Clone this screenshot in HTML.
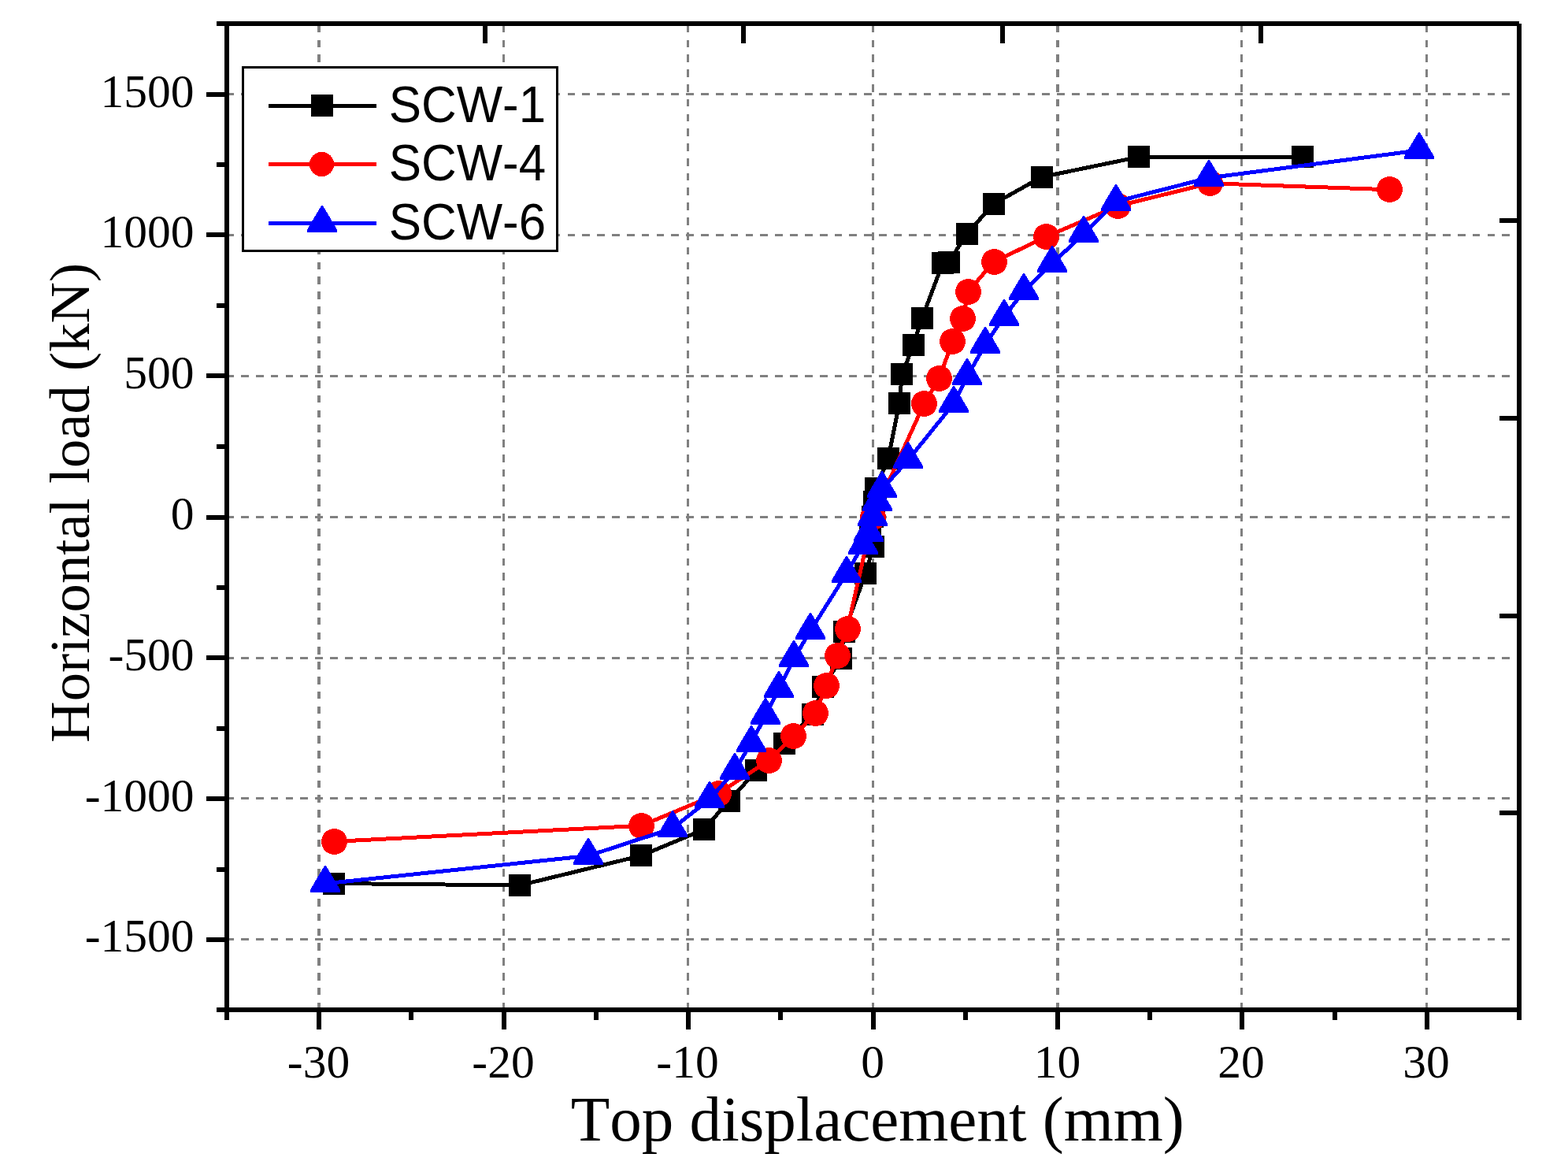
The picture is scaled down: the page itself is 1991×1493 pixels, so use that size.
<!DOCTYPE html>
<html lang="en"><head><meta charset="utf-8"><title>Horizontal load vs top displacement</title>
<style>
html,body{margin:0;padding:0;background:#fff;}
body{width:1991px;height:1493px;overflow:hidden;}
svg{display:block;}
text{font-kerning:none;white-space:pre;}
.tk{font-family:"Liberation Serif","Times New Roman",serif;font-size:59.5px;fill:#000;}
.xt{font-family:"Liberation Serif","Times New Roman",serif;font-size:81.1px;fill:#000;}
.yt{font-family:"Liberation Serif","Times New Roman",serif;font-size:72.6px;fill:#000;}
.lg{font-family:"Liberation Sans",Arial,sans-serif;font-size:64.9px;fill:#000;}
</style></head><body>
<svg width="1991" height="1493" viewBox="0 0 1991 1493">
<rect width="1991" height="1493" fill="#fff"/>
<g stroke="#808080" fill="none" shape-rendering="crispEdges" stroke-dasharray="9.7 9.14">
<line x1="287.2" y1="1192.5" x2="1917" y2="1192.5" stroke-width="3"/>
<line x1="287.2" y1="1013.5" x2="1917" y2="1013.5" stroke-width="3"/>
<line x1="287.2" y1="835.5" x2="1917" y2="835.5" stroke-width="3"/>
<line x1="287.2" y1="656.5" x2="1917" y2="656.5" stroke-width="3"/>
<line x1="287.2" y1="477.5" x2="1917" y2="477.5" stroke-width="3"/>
<line x1="287.2" y1="298.5" x2="1917" y2="298.5" stroke-width="3"/>
<line x1="287.2" y1="119.5" x2="1917" y2="119.5" stroke-width="3"/>
<line x1="405.0" y1="31.7" x2="405.0" y2="1282.0" stroke-width="3.5" stroke-dasharray="9.7 9.10"/>
<line x1="639.5" y1="31.7" x2="639.5" y2="1282.0" stroke-width="3.5" stroke-dasharray="9.7 9.10"/>
<line x1="873.5" y1="31.7" x2="873.5" y2="1282.0" stroke-width="3.5" stroke-dasharray="9.7 9.10"/>
<line x1="1108.5" y1="31.7" x2="1108.5" y2="1282.0" stroke-width="3.5" stroke-dasharray="9.7 9.10"/>
<line x1="1343.0" y1="31.7" x2="1343.0" y2="1282.0" stroke-width="3.5" stroke-dasharray="9.7 9.10"/>
<line x1="1576.5" y1="31.7" x2="1576.5" y2="1282.0" stroke-width="3.5" stroke-dasharray="9.7 9.10"/>
<line x1="1811.5" y1="31.7" x2="1811.5" y2="1282.0" stroke-width="3.5" stroke-dasharray="9.7 9.10"/>
</g>
<g shape-rendering="crispEdges"><polyline fill="none" stroke="#000" stroke-width="5" stroke-linejoin="round" points="423.5,1121.5 659.7,1124.0 814.0,1086.4 893.5,1053.3 925.8,1016.6 960.5,978.5 995.6,943.9 1032.2,906.9 1045.2,871.9 1067.8,836.5 1071.9,802.5 1099.0,728.3 1108.8,694.3 1104.8,674.3 1108.0,656.3 1110.1,636.9 1112.2,620.0 1128.0,581.5 1142.0,511.9 1145.4,475.3 1159.5,438.5 1170.9,403.8 1197.1,334.0 1204.7,332.8 1227.8,296.7 1261.6,258.9 1322.8,224.7 1445.5,199.4 1654.2,199.1"/><g fill="#000"><rect x="410" y="1108" width="28" height="28"/><rect x="646" y="1110" width="28" height="28"/><rect x="800" y="1072" width="28" height="28"/><rect x="880" y="1039" width="28" height="28"/><rect x="912" y="1003" width="28" height="28"/><rect x="946" y="964" width="28" height="28"/><rect x="982" y="930" width="28" height="28"/><rect x="1018" y="893" width="28" height="28"/><rect x="1031" y="858" width="28" height="28"/><rect x="1054" y="822" width="28" height="28"/><rect x="1058" y="788" width="28" height="28"/><rect x="1085" y="714" width="28" height="28"/><rect x="1095" y="680" width="28" height="28"/><rect x="1091" y="660" width="28" height="28"/><rect x="1094" y="642" width="28" height="28"/><rect x="1096" y="623" width="28" height="28"/><rect x="1098" y="606" width="28" height="28"/><rect x="1114" y="568" width="28" height="28"/><rect x="1128" y="498" width="28" height="28"/><rect x="1131" y="461" width="28" height="28"/><rect x="1146" y="424" width="28" height="28"/><rect x="1157" y="390" width="28" height="28"/><rect x="1183" y="320" width="28" height="28"/><rect x="1191" y="319" width="28" height="28"/><rect x="1214" y="283" width="28" height="28"/><rect x="1248" y="245" width="28" height="28"/><rect x="1309" y="211" width="28" height="28"/><rect x="1432" y="185" width="28" height="28"/><rect x="1640" y="185" width="28" height="28"/></g></g>
<g shape-rendering="crispEdges"><polyline fill="none" stroke="#f00" stroke-width="5" stroke-linejoin="round" points="424.8,1068.4 814.6,1048.2 912.9,1007.1 976.0,965.4 1007.9,934.5 1035.4,905.4 1049.3,870.3 1063.6,832.5 1076.0,798.4 1108.0,656.3 1173.2,512.9 1192.6,480.4 1209.3,433.8 1222.8,404.1 1229.4,370.0 1262.0,332.4 1328.9,300.3 1419.6,261.4 1536.4,232.7 1764.3,240.8"/><g fill="#f00"><circle cx="424.5" cy="1068.5" r="16.5"/><circle cx="814.5" cy="1048.5" r="16.5"/><circle cx="912.5" cy="1007.5" r="16.5"/><circle cx="976.5" cy="965.5" r="16.5"/><circle cx="1007.5" cy="934.5" r="16.5"/><circle cx="1035.5" cy="905.5" r="16.5"/><circle cx="1049.5" cy="870.5" r="16.5"/><circle cx="1063.5" cy="832.5" r="16.5"/><circle cx="1076.5" cy="798.5" r="16.5"/><circle cx="1108.5" cy="656.5" r="16.5"/><circle cx="1173.5" cy="512.5" r="16.5"/><circle cx="1192.5" cy="480.5" r="16.5"/><circle cx="1209.5" cy="433.5" r="16.5"/><circle cx="1222.5" cy="404.5" r="16.5"/><circle cx="1229.5" cy="370.5" r="16.5"/><circle cx="1262.5" cy="332.5" r="16.5"/><circle cx="1328.5" cy="300.5" r="16.5"/><circle cx="1419.5" cy="261.5" r="16.5"/><circle cx="1536.5" cy="232.5" r="16.5"/><circle cx="1764.5" cy="240.5" r="16.5"/></g></g>
<g shape-rendering="crispEdges"><polyline fill="none" stroke="#00f" stroke-width="5" stroke-linejoin="round" points="413.1,1121.8 747.1,1086.5 853.7,1051.7 901.1,1014.8 932.6,978.7 953.7,943.4 972.1,908.6 989.2,874.0 1008.5,835.5 1029.1,800.8 1074.6,728.5 1095.5,692.4 1103.1,676.5 1108.0,656.3 1114.4,637.9 1120.2,620.9 1153.4,583.7 1211.1,512.3 1228.4,477.3 1250.9,437.8 1274.6,402.3 1300.5,369.6 1336.3,334.2 1376.5,296.5 1416.6,256.0 1534.6,225.9 1802.5,190.8"/><g fill="#00f"><polygon points="412,1099.0 414,1099.0 432,1129.5 432,1133.0 394,1133.0 394,1129.5"/><polygon points="746,1064.0 748,1064.0 766,1094.5 766,1098.0 728,1098.0 728,1094.5"/><polygon points="853,1029.0 855,1029.0 873,1059.5 873,1063.0 835,1063.0 835,1059.5"/><polygon points="900,992.0 902,992.0 920,1022.5 920,1026.0 882,1026.0 882,1022.5"/><polygon points="932,956.0 934,956.0 952,986.5 952,990.0 914,990.0 914,986.5"/><polygon points="953,921.0 955,921.0 973,951.5 973,955.0 935,955.0 935,951.5"/><polygon points="971,886.0 973,886.0 991,916.5 991,920.0 953,920.0 953,916.5"/><polygon points="988,852.0 990,852.0 1008,882.5 1008,886.0 970,886.0 970,882.5"/><polygon points="1007,813.0 1009,813.0 1027,843.5 1027,847.0 989,847.0 989,843.5"/><polygon points="1028,778.0 1030,778.0 1048,808.5 1048,812.0 1010,812.0 1010,808.5"/><polygon points="1074,706.0 1076,706.0 1094,736.5 1094,740.0 1056,740.0 1056,736.5"/><polygon points="1095,670.0 1097,670.0 1115,700.5 1115,704.0 1077,704.0 1077,700.5"/><polygon points="1102,654.0 1104,654.0 1122,684.5 1122,688.0 1084,688.0 1084,684.5"/><polygon points="1107,634.0 1109,634.0 1127,664.5 1127,668.0 1089,668.0 1089,664.5"/><polygon points="1113,615.0 1115,615.0 1133,645.5 1133,649.0 1095,649.0 1095,645.5"/><polygon points="1119,598.0 1121,598.0 1139,628.5 1139,632.0 1101,632.0 1101,628.5"/><polygon points="1152,561.0 1154,561.0 1172,591.5 1172,595.0 1134,595.0 1134,591.5"/><polygon points="1210,490.0 1212,490.0 1230,520.5 1230,524.0 1192,524.0 1192,520.5"/><polygon points="1227,455.0 1229,455.0 1247,485.5 1247,489.0 1209,489.0 1209,485.5"/><polygon points="1250,415.0 1252,415.0 1270,445.5 1270,449.0 1232,449.0 1232,445.5"/><polygon points="1274,380.0 1276,380.0 1294,410.5 1294,414.0 1256,414.0 1256,410.5"/><polygon points="1299,347.0 1301,347.0 1319,377.5 1319,381.0 1281,381.0 1281,377.5"/><polygon points="1335,312.0 1337,312.0 1355,342.5 1355,346.0 1317,346.0 1317,342.5"/><polygon points="1375,274.0 1377,274.0 1395,304.5 1395,308.0 1357,308.0 1357,304.5"/><polygon points="1416,234.0 1418,234.0 1436,264.5 1436,268.0 1398,268.0 1398,264.5"/><polygon points="1534,203.0 1536,203.0 1554,233.5 1554,237.0 1516,237.0 1516,233.5"/><polygon points="1801,168.0 1803,168.0 1821,198.5 1821,202.0 1783,202.0 1783,198.5"/></g></g>
<g fill="#000" shape-rendering="crispEdges">
<rect x="275" y="27" width="1654" height="6"/>
<rect x="275" y="1279" width="1657" height="6"/>
<rect x="285" y="27" width="6" height="1268"/>
<rect x="1926" y="30" width="6" height="1265"/>
<rect x="262" y="1190" width="23" height="6"/>
<rect x="275" y="1101" width="10" height="6"/>
<rect x="262" y="1011" width="23" height="6"/>
<rect x="275" y="922" width="10" height="6"/>
<rect x="262" y="832" width="23" height="6"/>
<rect x="275" y="743" width="10" height="6"/>
<rect x="262" y="654" width="23" height="6"/>
<rect x="275" y="564" width="10" height="6"/>
<rect x="262" y="474" width="23" height="6"/>
<rect x="275" y="385" width="10" height="6"/>
<rect x="262" y="295" width="23" height="6"/>
<rect x="275" y="206" width="10" height="6"/>
<rect x="262" y="117" width="23" height="6"/>
<rect x="402" y="1285" width="6" height="22"/>
<rect x="519" y="1285" width="6" height="10"/>
<rect x="637" y="1285" width="6" height="22"/>
<rect x="754" y="1285" width="6" height="10"/>
<rect x="871" y="1285" width="6" height="22"/>
<rect x="988" y="1285" width="6" height="10"/>
<rect x="1106" y="1285" width="6" height="22"/>
<rect x="1223" y="1285" width="6" height="10"/>
<rect x="1340" y="1285" width="6" height="22"/>
<rect x="1457" y="1285" width="6" height="10"/>
<rect x="1574" y="1285" width="6" height="22"/>
<rect x="1692" y="1285" width="6" height="10"/>
<rect x="1809" y="1285" width="6" height="22"/>
<rect x="613" y="33" width="6" height="22"/>
<rect x="941" y="33" width="6" height="22"/>
<rect x="1270" y="33" width="6" height="22"/>
<rect x="1598" y="33" width="6" height="22"/>
<rect x="1904" y="277" width="22" height="6"/>
<rect x="1904" y="528" width="22" height="6"/>
<rect x="1904" y="779" width="22" height="6"/>
<rect x="1904" y="1029" width="22" height="6"/>
</g>
<g class="tk" text-anchor="end">
<text x="246.5" y="1207.5">-1500</text>
<text x="246.5" y="1029.7">-1000</text>
<text x="246.5" y="850.7">-500</text>
<text x="246.5" y="671.7">0</text>
<text x="246.5" y="492.7">500</text>
<text x="246.5" y="313.7">1000</text>
<text x="246.5" y="135.7">1500</text>
</g>
<g class="tk" text-anchor="middle">
<text x="404.5" y="1367.8">-30</text>
<text x="639.0" y="1367.8">-20</text>
<text x="873.0" y="1367.8">-10</text>
<text x="1108.0" y="1367.8">0</text>
<text x="1342.5" y="1367.8">10</text>
<text x="1576.0" y="1367.8">20</text>
<text x="1811.0" y="1367.8">30</text>
</g>
<text class="xt" x="724.7" y="1447.6">Top displacement (mm)</text>
<text class="yt" transform="translate(112.5 942.7) rotate(-90)">Horizontal load (kN)</text>
<g>
<rect x="308.5" y="85.5" width="399" height="233" shape-rendering="crispEdges" fill="#fff" stroke="#000" stroke-width="3"/>
<line x1="341" y1="134.5" x2="478" y2="134.5" stroke="#000" stroke-width="5" shape-rendering="crispEdges"/>
<g fill="#000" shape-rendering="crispEdges"><rect x="395" y="120" width="28" height="28"/></g>
<text class="lg" transform="translate(493.8 155.4) scale(0.953 1)">SCW-1</text>
<line x1="341" y1="208.5" x2="478" y2="208.5" stroke="#f00" stroke-width="5" shape-rendering="crispEdges"/>
<g fill="#f00" shape-rendering="crispEdges"><circle cx="408.5" cy="208.5" r="15.6"/></g>
<text class="lg" transform="translate(493.8 229.3) scale(0.953 1)">SCW-4</text>
<line x1="341" y1="283.5" x2="478" y2="283.5" stroke="#00f" stroke-width="5" shape-rendering="crispEdges"/>
<g fill="#00f" shape-rendering="crispEdges"><polygon points="408,261.0 410,261.0 428,291.5 428,295.0 390,295.0 390,291.5"/></g>
<text class="lg" transform="translate(493.8 304.2) scale(0.953 1)">SCW-6</text>
</g>
</svg></body></html>
